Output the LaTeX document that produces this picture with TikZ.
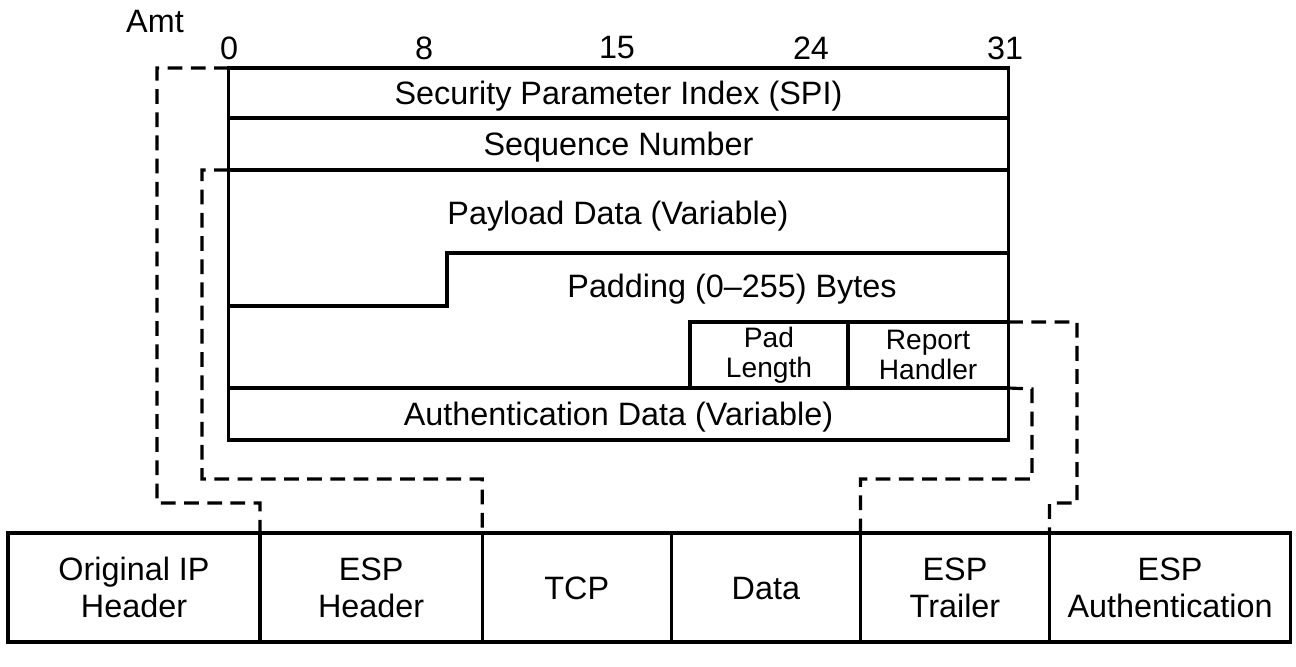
\documentclass[tikz,border=0pt]{standalone}
\usepackage{fontspec}
\setmainfont{Liberation Sans}
\usetikzlibrary{positioning,calc}
\tikzset{font=\fontsize{9.2}{10.6}\selectfont}
\tikzset{
  field/.style={draw, line width=0.9pt, inner sep=0pt, outer sep=0pt, align=center},
  seg/.style={draw, line width=0.9pt, inner sep=0pt, outer sep=0pt, align=center,
    minimum height=1.09cm},
  oneline/.style={text height=6.6pt, text depth=0pt},
  small/.style={font=\fontsize{8}{8.6}\selectfont},
  link/.style={line width=0.9pt, dash pattern=on 4.2pt off 2.4pt},
  bitnum/.style={inner sep=0pt, anchor=center}
}

\begin{document}
\begin{tikzpicture}[x=0.01cm, y=-0.01cm]
	\useasboundingbox (0,0) rectangle (1296,666);

	% ESP packet format
	\node[field, oneline, minimum width=7.79cm, minimum height=0.50cm] (spi) at (618.5,93) {Security Parameter Index (SPI)};
	\node[field, oneline, minimum width=7.79cm, minimum height=0.52cm, below=0pt of spi] (seq) {Sequence Number};
	\node[field, oneline, minimum width=7.79cm, minimum height=0.52cm] (auth) at (618.5,414) {Authentication Data (Variable)};
	\node[field, small, minimum width=1.58cm, minimum height=0.66cm] (padlen) at (769,355) {Pad\\Length};
	\node[field, small, minimum width=1.60cm, minimum height=0.66cm, right=0pt of padlen] (rh) {Report\\Handler};

	\draw[line width=0.9pt] (seq.south west) -- (auth.north west);
	\draw[line width=0.9pt] (seq.south east) -- (auth.north east);
	\draw[line width=0.9pt] (229,306) -- (447,306) -- (447,253) -- (1008,253);
	\node[oneline] (payload) at (618,213) {Payload Data (Variable)};
	\node[oneline] (padding) at (732,286) {Padding (0--255) Bytes};

	% bit positions
	\node (amt) at (155,21) {Amt};
	\node[bitnum] (b0) at (229,48) {0};
	\node[bitnum] (b8) at (424,48) {8};
	\node[bitnum] (b15) at (617,48) {15};
	\node[bitnum] (b24) at (811,48) {24};
	\node[bitnum] (b31) at (1005,48) {31};

	% IP packet
	\node[seg, minimum width=2.52cm] (iphdr) at (134,587.5) {Original IP\\Header};
	\node[seg, minimum width=2.22cm, right=0pt of iphdr] (esphdr) {ESP\\Header};
	\node[seg, oneline, minimum width=1.89cm, right=0pt of esphdr] (tcp) {TCP};
	\node[seg, oneline, minimum width=1.89cm, right=0pt of tcp] (data) {Data};
	\node[seg, minimum width=1.89cm, right=0pt of data] (trailer) {ESP\\Trailer};
	\node[seg, minimum width=2.41cm, right=0pt of trailer] (espauth) {ESP\\Authentication};

	\draw[link] (spi.north west) -- (157,68) -- (157,503) -| (esphdr.north west);
	\draw[link] (seq.south west) -- (202,170) -- (202,479) -| (esphdr.north east);
	\draw[link] (rh.north east) -- (1077,322) -- (1077,503) -| (espauth.north west);
	\draw[link] (auth.north east) -- (1032,389) -- (1032,479) -| (trailer.north west);
\end{tikzpicture}
\end{document}
